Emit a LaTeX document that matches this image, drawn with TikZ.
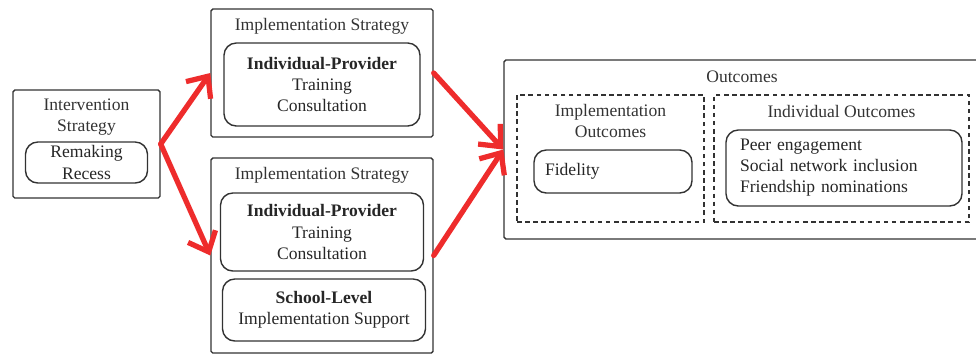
\documentclass[tikz,border=0pt]{standalone}
\usepackage{fontspec}
\setmainfont{Liberation Serif}
\usetikzlibrary{positioning,arrows.meta}
\definecolor{boxgray}{RGB}{50,50,50}
\definecolor{arrowred}{RGB}{238,44,44}
\tikzstyle{outerbox}=[rectangle, draw=boxgray, line width=0.8pt, rounded corners=1pt, inner sep=0pt]
\tikzstyle{innerbox}=[rectangle, draw=boxgray, line width=0.8pt, rounded corners=7pt, text=black!85, text centered, align=center, inner sep=0pt]
\tikzstyle{dashbox}=[rectangle, draw=boxgray, line width=0.8pt, dash pattern=on 2.6pt off 2pt, inner sep=0pt]
\tikzstyle{heading}=[text=black!80, align=center, inner sep=0pt]
\tikzstyle{myarrow}=[-{Straight Barb[length=3.4mm,width=6mm]}, line width=3pt, draw=arrowred, line cap=round, line join=round]

\begin{document}
\begin{tikzpicture}[node distance=2cm]
\useasboundingbox (-1.73,-4.24) rectangle (17.79,2.88);

        % Intervention
        \node (intervention) [outerbox, minimum width=2.94cm, minimum height=2.16cm] {};
        \node (intervention_title) [heading, above of=intervention, node distance=0.53cm] {Intervention\\Strategy};
        \node (remaking_recess) [innerbox, below of=intervention, node distance=0.37cm, minimum width=2.44cm, minimum height=0.82cm] {Remaking\\Recess};

        % Implementation strategies
        \node (strategy_top) [outerbox, right of=intervention, node distance=4.71cm, yshift=1.42cm, minimum width=4.44cm, minimum height=2.56cm] {};
        \node (strategy_top_title) [heading, above of=strategy_top, node distance=0.94cm] {Implementation Strategy};
        \node (provider_top) [innerbox, below of=strategy_top, node distance=0.23cm, minimum width=3.92cm, minimum height=1.66cm] {\textbf{Individual-Provider}\\Training\\Consultation};

        \node (strategy_bottom) [outerbox, right of=intervention, node distance=4.71cm, yshift=-2.23cm, minimum width=4.44cm, minimum height=3.90cm] {};
        \node (strategy_bottom_title) [heading, above of=strategy_bottom, node distance=1.61cm] {Implementation Strategy};
        \node (provider_bottom) [innerbox, above of=strategy_bottom, node distance=0.47cm, minimum width=4.06cm, minimum height=1.56cm] {\textbf{Individual-Provider}\\Training\\Consultation};
        \node (school_level) [innerbox, below of=strategy_bottom, node distance=1.09cm, xshift=0.04cm, minimum width=4.06cm, minimum height=1.24cm] {\textbf{School-Level}\\Implementation Support};

        % Outcomes
        \node (outcomes) [outerbox, right of=intervention, node distance=13.11cm, yshift=-0.11cm, minimum width=9.52cm, minimum height=3.58cm] {};
        \node (outcomes_title) [heading, above of=outcomes, node distance=1.45cm] {Outcomes};

        \node (impl_outcomes) [dashbox, left of=outcomes, node distance=2.63cm, yshift=-0.18cm, minimum width=3.74cm, minimum height=2.54cm] {};
        \node (impl_outcomes_title) [heading, above of=impl_outcomes, node distance=0.75cm] {Implementation\\Outcomes};
        \node (fidelity) [innerbox, below of=impl_outcomes, node distance=0.26cm, xshift=0.05cm, text width=2.72cm, inner xsep=0.22cm, minimum height=0.86cm, align=left] {Fidelity};

        \node (indiv_outcomes) [dashbox, right of=outcomes, node distance=1.99cm, yshift=-0.18cm, minimum width=5.10cm, minimum height=2.54cm] {};
        \node (indiv_outcomes_title) [heading, above of=indiv_outcomes, node distance=0.95cm] {Individual Outcomes};
        \node (indiv_measures) [innerbox, below of=indiv_outcomes, node distance=0.19cm, xshift=0.05cm, text width=4.16cm, inner xsep=0.28cm, minimum height=1.52cm, align=left] {Peer engagement\\Social network inclusion\\Friendship nominations};

        %Arrows
        \draw[myarrow] (intervention.east) -- (strategy_top.west);
        \draw[myarrow] (intervention.east) -- (strategy_bottom.west);
        \draw[myarrow] (strategy_top.east) -- (outcomes.west);
        \draw[myarrow] (strategy_bottom.east) -- (outcomes.west);

\end{tikzpicture}
\end{document}
